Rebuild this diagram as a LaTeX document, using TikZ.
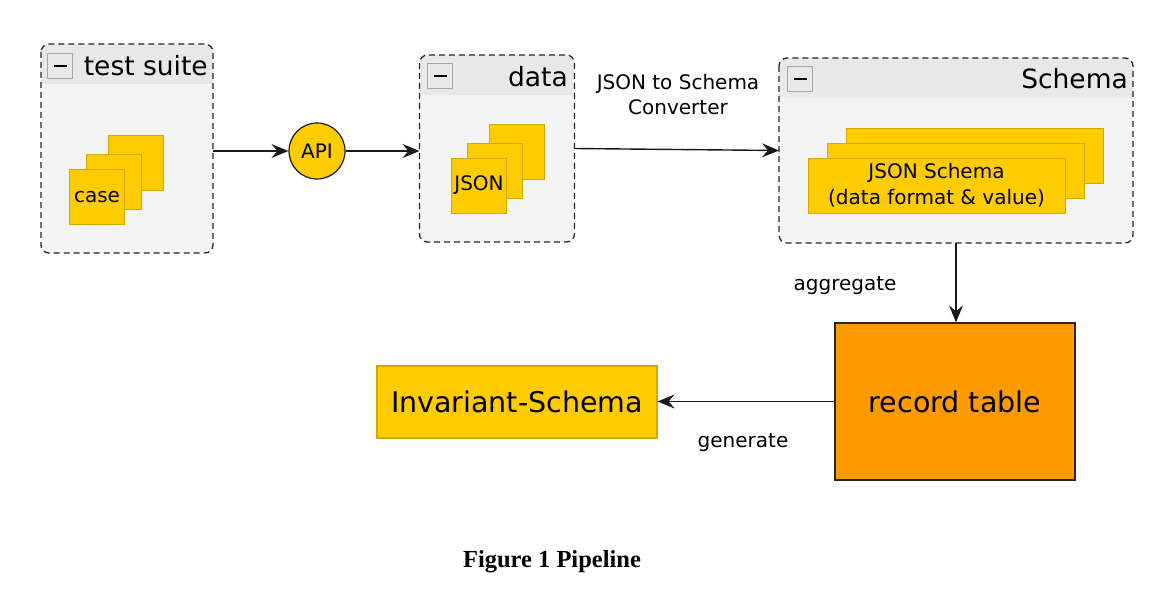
\documentclass[tikz,border=0pt]{standalone}
\usepackage{fontspec}
\setmainfont{DejaVu Sans}
\newfontfamily\capfont{Liberation Serif}
\usetikzlibrary{arrows.meta}
\definecolor{ybox}{HTML}{FFCC00}
\definecolor{yedge}{HTML}{D4A800}
\definecolor{obox}{HTML}{FD9A00}
\definecolor{hdr}{HTML}{E8E8E8}
\definecolor{bodyg}{HTML}{F4F4F4}
\newcommand\fs[1]{\fontsize{#1}{#1}\selectfont}
\newcommand\mkcontainer[2]{%
  \fill[bodyg, rounded corners=8pt] (#1.north west) rectangle (#1.south east);
  \begin{scope}
    \clip[rounded corners=8pt] (#1.north west) rectangle (#1.south east);
    \fill[hdr] (#1.north west) rectangle ([yshift=-#2]#1.north east);
  \end{scope}
  \draw[cborder, rounded corners=8pt] (#1.north west) rectangle (#1.south east);}
\tikzset{
  frame/.style={inner sep=0pt, outer sep=0pt, draw=none},
  cborder/.style={draw=black!85, line width=1.3pt, dash pattern=on 6pt off 4pt},
  minusbox/.style={draw=gray!70, fill=hdr, line width=1pt, minimum size=25pt, inner sep=0pt,
    path picture={\draw[black, line width=2.8pt] ([xshift=-6.5pt]path picture bounding box.center) -- ([xshift=6.5pt]path picture bounding box.center);}},
  sq/.style={fill=ybox, draw=yedge, line width=1pt, inner sep=0pt, minimum width=55pt, minimum height=55pt, font=\fs{20}},
  wide/.style={sq, minimum width=257pt},
  title/.style={anchor=east, inner sep=0pt, font=\fs{26.5}},
  lbl/.style={inner sep=0pt, font=\fs{20}},
  arr/.style={-{Stealth[length=17pt,width=14pt,inset=6pt]}, line width=1.4pt, black!90},
}
\begin{document}
\begin{tikzpicture}[x=1pt,y=-1pt]
\useasboundingbox (0,0) rectangle (1160,594);
% containers
\node[frame, minimum width=172pt, minimum height=209pt] (ts) at (127,148.5) {};
\node[frame, minimum width=155pt, minimum height=187pt] (data) at (497,148.5) {};
\node[frame, minimum width=354pt, minimum height=185pt] (schema) at (956,150.5) {};
\mkcontainer{ts}{40pt}
\mkcontainer{data}{40pt}
\mkcontainer{schema}{40pt}
% headers
\node[minusbox] (tsm) at (60,66) {};
\node[title] (tst) at (208,66) {test suite};
\node[minusbox] (datam) at (440,76) {};
\node[title] (datat) at (568,77) {data};
\node[minusbox] (schm) at (800,79) {};
\node[title] (scht) at (1128,79) {Schema};
% case stack
\node[sq] (case3) at (135.5,163) {};
\node[sq] (case2) at (114,181.5) {};
\node[sq] (case1) at (97,197) {case};
% json stack
\node[sq] (json3) at (517,151.5) {};
\node[sq] (json2) at (495,170.5) {};
\node[sq] (json1) at (479,185.5) {JSON};
% schema stack
\node[wide] (js3) at (974.5,155.5) {};
\node[wide] (js2) at (955.5,170.5) {};
\node[wide, align=center, font=\fontsize{20}{26}\selectfont] (js1) at (936.5,185.5) {JSON Schema\\(data format \& value)};
% API
\node[circle, fill=ybox, draw=black!90, line width=1.2pt, minimum size=56pt, inner sep=0pt, font=\fs{20}] (api) at (317,151) {API};
% record table and invariant
\node[fill=obox, draw=black!85, line width=1.3pt, minimum width=240pt, minimum height=157pt, inner sep=0pt, font=\fs{28.5}] (rec) at (955,401.5) {record table};
\node[fill=ybox, draw=yedge, line width=1.2pt, minimum width=280pt, minimum height=72pt, inner sep=0pt, font=\fs{28.5}] (inv) at (517,402) {Invariant-Schema};
% labels
\node[lbl, align=center, font=\fontsize{20}{25}\selectfont] (conv) at (678,95) {JSON to Schema\\Converter};
\node[lbl] (agg) at (845,286) {aggregate};
\node[lbl] (gen) at (743,443) {generate};
\node[inner sep=0pt, font=\capfont\bfseries\fs{24.5}] (cap) at (552,562) {Figure 1 Pipeline};
% arrows
\draw[arr] (ts.east |- api) -- (api.west);
\draw[arr] (api.east) -- (data.west |- api);
\draw[arr] (data.east) -- (schema.west);
\draw[arr] (schema.south) -- (rec.north -| schema.south);
\draw[arr] (rec.west) -- (inv.east |- rec.west);
\end{tikzpicture}
\end{document}
